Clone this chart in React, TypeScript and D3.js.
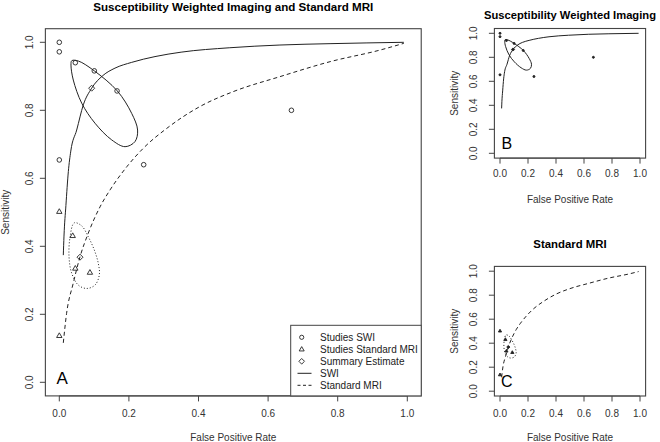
import React, { useEffect } from "react";
import * as d3 from "d3";

// ---- data ----
const swiFpr = [0.0, 0.0, 0.0, 0.046, 0.1006, 0.166, 0.2425, 0.667];
const swiSens = [1.0, 0.972, 0.654, 0.94, 0.916, 0.857, 0.64, 0.8];

const mriFpr = [0.0, 0.0385, 0.046, 0.088, 0.0];
const mriSens = [0.502, 0.431, 0.335, 0.323, 0.137];

const summaryFpr = [0.093, 0.0595];
const summarySens = [0.865, 0.368];

const swiCurve: [number, number][] = [
  [0.0115, 0.374], [0.0135, 0.43], [0.019, 0.52], [0.026, 0.62], [0.033, 0.68],
  [0.05, 0.742], [0.069, 0.816], [0.093, 0.865], [0.125, 0.902], [0.16, 0.924],
  [0.208, 0.941], [0.275, 0.958], [0.35, 0.971], [0.49, 0.984], [0.634, 0.992],
  [0.778, 0.996], [0.99, 1.0],
];

const mriCurve: [number, number][] = [
  [0.0115, 0.116], [0.021, 0.203], [0.04, 0.291], [0.0595, 0.369], [0.083, 0.438],
  [0.117, 0.516], [0.146, 0.566], [0.194, 0.634], [0.241, 0.688], [0.309, 0.747],
  [0.404, 0.811], [0.5, 0.855], [0.634, 0.899], [0.778, 0.943], [0.921, 0.977],
  [0.99, 0.997],
];

const swiEllipse: [number, number][] = [
  [0.036, 0.946], [0.0546, 0.945], [0.1006, 0.916], [0.1667, 0.857], [0.208, 0.791],
  [0.225, 0.742], [0.2175, 0.708], [0.189, 0.693], [0.1505, 0.713], [0.1026, 0.762],
  [0.0644, 0.821], [0.0402, 0.889], [0.0336, 0.933],
];

const mriEllipse: [number, number][] = [
  [0.043, 0.469], [0.0644, 0.46], [0.0833, 0.428], [0.1006, 0.389], [0.112, 0.35],
  [0.115, 0.316], [0.1026, 0.286], [0.0787, 0.276], [0.0546, 0.286], [0.0356, 0.321],
  [0.028, 0.369], [0.031, 0.428],
];

const ticks = [0, 0.2, 0.4, 0.6, 0.8, 1.0];
const tickLabels = ["0.0", "0.2", "0.4", "0.6", "0.8", "1.0"];

const legendLabels = ["Studies SWI", "Studies Standard MRI", "Summary Estimate", "SWI", "Standard MRI"];

const FONT = "'Liberation Sans', Arial, Helvetica, sans-serif";
const INK = "#222";

type PanelSpec = {
  px0: number; px1: number; py0: number; py1: number;
  title: string; titleY: number; titleSize: number;
  tickLabelY: number; yTickLabelX: number; xTitleY: number; yTitleX: number;
  letter: string; letterSize: number; letterFpr: number; letterSens: number;
  big: boolean; showSwi: boolean; showMri: boolean;
};

const triPath = (s: number) => {
  const h = s * 0.866;
  return `M0,${-h * 0.62}L${s / 2},${h * 0.38}L${-s / 2},${h * 0.38}Z`;
};
const diaPath = (s: number) => `M0,${-s}L${s},0L0,${s}L${-s},0Z`;

function Panel({ p }: { p: PanelSpec }) {
  const x = d3.scaleLinear().domain([0, 1]).range([p.px0, p.px1]);
  const y = d3.scaleLinear().domain([0, 1]).range([p.py0, p.py1]);
  const bx0 = x(-0.04), bx1 = x(1.04), by0 = y(-0.04), by1 = y(1.04);
  const line = d3.line<[number, number]>().x((d) => x(d[0])).y((d) => y(d[1])).curve(d3.curveMonotoneX);
  const closed = d3.line<[number, number]>().x((d) => x(d[0])).y((d) => y(d[1])).curve(d3.curveCatmullRomClosed.alpha(0.5));
  const r = p.big ? 2.3 : 1.0;
  const tri = p.big ? 5.4 : 3.2;
  const dia = p.big ? 3.0 : 1.6;
  const midY = (by0 + by1) / 2;
  const midX = (bx0 + bx1) / 2;
  return (
    <g fontFamily={FONT} fill="none">
      <text x={midX} y={p.titleY} fill="#000" fontSize={p.titleSize} fontWeight="bold" textAnchor="middle" dominantBaseline="central">{p.title}</text>
      <rect x={bx0} y={by1} width={bx1 - bx0} height={by0 - by1} stroke="#444" strokeWidth={1.1} />
      <line x1={x(0)} x2={x(1)} y1={by0} y2={by0} stroke="#444" />
      {ticks.map((t, i) => (
        <g key={"xt" + i}>
          <line x1={x(t)} x2={x(t)} y1={by0} y2={by0 + 5.5} stroke="#444" />
          <text x={x(t)} y={p.tickLabelY} fill="#333" fontSize={10} textAnchor="middle" dominantBaseline="central">{tickLabels[i]}</text>
        </g>
      ))}
      {ticks.map((t, i) => (
        <g key={"yt" + i}>
          <line x1={bx0} x2={bx0 - 5.5} y1={y(t)} y2={y(t)} stroke="#444" />
          <text transform={`translate(${p.yTickLabelX},${y(t)}) rotate(-90)`} fill="#333" fontSize={10} textAnchor="middle" dominantBaseline="central">{tickLabels[i]}</text>
        </g>
      ))}
      <text x={midX} y={p.xTitleY} fill="#333" fontSize={10} textAnchor="middle" dominantBaseline="central">False Positive Rate</text>
      <text transform={`translate(${p.yTitleX},${midY}) rotate(-90)`} fill="#333" fontSize={10} textAnchor="middle" dominantBaseline="central">Sensitivity</text>

      {p.showSwi && (
        <g>
          <path d={line(swiCurve) || ""} stroke={INK} strokeWidth={1} />
          <path d={closed(swiEllipse) || ""} stroke={INK} strokeWidth={1} />
          {swiFpr.map((f, i) => (
            <circle key={"sc" + i} cx={x(f)} cy={y(swiSens[i])} r={r} stroke={INK} strokeWidth={p.big ? 0.9 : 1} fill={p.big ? "none" : INK} />
          ))}
          <path d={diaPath(dia)} transform={`translate(${x(summaryFpr[0])},${y(summarySens[0])})`} stroke={INK} strokeWidth={0.9} fill={p.big ? "none" : INK} />
        </g>
      )}
      {p.showMri && (
        <g>
          <path d={line(mriCurve) || ""} stroke={INK} strokeWidth={1} strokeDasharray="4,3" />
          <path d={closed(mriEllipse) || ""} stroke={INK} strokeWidth={1} strokeDasharray="1,2" />
          {mriFpr.map((f, i) => (
            <path key={"mt" + i} d={triPath(tri)} transform={`translate(${x(f)},${y(mriSens[i])})`} stroke={INK} strokeWidth={0.9} fill={p.big ? "none" : INK} />
          ))}
          <path d={diaPath(dia)} transform={`translate(${x(summaryFpr[1])},${y(summarySens[1])})`} stroke={INK} strokeWidth={0.9} fill={p.big ? "none" : INK} />
        </g>
      )}
      <text x={x(p.letterFpr)} y={y(p.letterSens)} fill="#000" fontSize={p.letterSize} textAnchor="middle" dominantBaseline="central">{p.letter}</text>

      {p.big && (
        <g>
          <rect x={290.7} y={325.3} width={bx1 - 290.7} height={by0 - 325.3} stroke="#444" strokeWidth={1} fill="#fff" />
          {legendLabels.map((lab, i) => {
            const ly = 337.3 + i * 12;
            return (
              <g key={"lg" + i}>
                {i === 0 && <circle cx={301.7} cy={ly} r={2.1} stroke={INK} strokeWidth={0.9} />}
                {i === 1 && <path d={triPath(5)} transform={`translate(301.7,${ly})`} stroke={INK} strokeWidth={0.9} />}
                {i === 2 && <path d={diaPath(2.8)} transform={`translate(301.7,${ly})`} stroke={INK} strokeWidth={0.9} />}
                {i === 3 && <line x1={297.5} x2={311.5} y1={ly} y2={ly} stroke={INK} />}
                {i === 4 && <line x1={297.5} x2={311.5} y1={ly} y2={ly} stroke={INK} strokeDasharray="3,2.5" />}
                <text x={320} y={ly} fill="#222" fontSize={10} dominantBaseline="central">{lab}</text>
              </g>
            );
          })}
        </g>
      )}
    </g>
  );
}

const panels: PanelSpec[] = [
  {
    px0: 59.3, px1: 407.3, py0: 382.3, py1: 42.3,
    title: "Susceptibility Weighted Imaging and Standard MRI", titleY: 6, titleSize: 11.6,
    tickLabelY: 413, yTickLabelX: 29.3, xTitleY: 437.7, yTitleX: 5,
    letter: "A", letterSize: 17, letterFpr: 0.008, letterSens: 0.01,
    big: true, showSwi: true, showMri: true,
  },
  {
    px0: 500, px1: 640, py0: 153.3, py1: 33.3,
    title: "Susceptibility Weighted Imaging", titleY: 14.5, titleSize: 11.2,
    tickLabelY: 173.3, yTickLabelX: 473, xTitleY: 199, yTitleX: 454.5,
    letter: "B", letterSize: 16, letterFpr: 0.048, letterSens: 0.083,
    big: false, showSwi: true, showMri: false,
  },
  {
    px0: 500, px1: 640, py0: 391.2, py1: 271.2,
    title: "Standard MRI", titleY: 244, titleSize: 11.4,
    tickLabelY: 413.3, yTickLabelX: 473, xTitleY: 437.3, yTitleX: 454.5,
    letter: "C", letterSize: 16, letterFpr: 0.048, letterSens: 0.079,
    big: false, showSwi: false, showMri: true,
  },
];

export default function App() {
  useEffect(() => {
    document.body.style.margin = "0";
  }, []);
  return (
    <svg width={660} height={442} style={{ position: "absolute", left: 0, top: 0, background: "#fff" }}>
      <rect width={660} height={442} fill="#fff" />
      {panels.map((p, i) => (
        <Panel key={i} p={p} />
      ))}
    </svg>
  );
}
